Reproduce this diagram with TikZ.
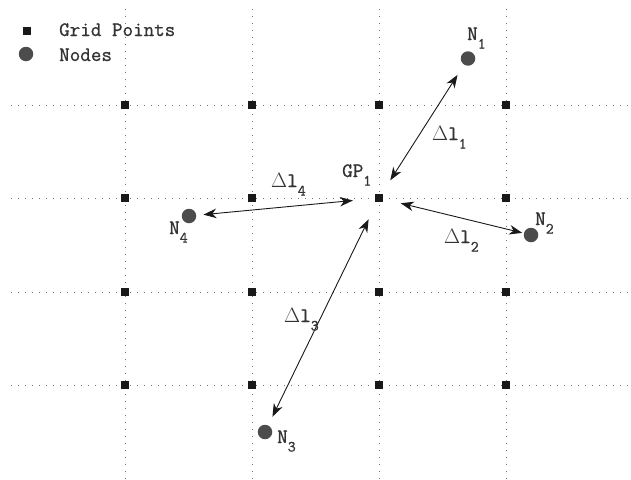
\documentclass[tikz,border=0pt]{standalone}
\usepackage{fontspec}
\newfontfamily\typew{Latin Modern Mono}[FakeBold=0.9]
\usepackage{tikz}
\usetikzlibrary{arrows.meta,positioning}
\newcommand{\lbl}[2]{#1\raisebox{-8.5pt}{\fontsize{15.5}{16}\selectfont #2}}

\begin{document}
\begin{tikzpicture}[x=1pt,y=-1pt,>={Stealth[length=13pt,width=9.5pt,inset=4pt]},
  font=\typew\fontsize{20.5}{21}\selectfont,
  gridline/.style={black!55,line width=1pt,dash pattern=on 1pt off 6pt},
  gridpt/.style={fill=black!90,minimum size=8pt,inner sep=0pt},
  netnode/.style={circle,fill=black!70,minimum size=14.5pt,inner sep=0pt},
  lbltext/.style={anchor=base west,inner sep=0pt,text=black!80},
  dist/.style={<->,line width=0.9pt,black!90}]
\useasboundingbox (0,0) rectangle (631,479);
% grid
\foreach \x in {125,252,379,506} \draw[gridline] (\x,9) -- (\x,479);
\foreach \y in {105,198,292,385} \draw[gridline] (11,\y) -- (631,\y);
\foreach \x [count=\i] in {125,252,379,506}
  \foreach \y [count=\j] in {105,198,292,385}
    \node[gridpt] (g\i\j) at (\x,\y) {};
% legend
\node[gridpt] (keygp) at (27,31) {};
\node[lbltext] (keygptext) at (59,36) {Grid Points};
\node[netnode] (keynd) at (26,54) {};
\node[lbltext] (keyndtext) at (59,61) {Nodes};
% nodes
\node[netnode] (N1) at (468,58.5) {};
\node[netnode] (N2) at (531,235) {};
\node[netnode] (N3) at (265,432) {};
\node[netnode] (N4) at (189,216) {};
\node[lbltext] (N1lbl) at (467,40) {\lbl{N}{1}};
\node[lbltext] (N2lbl) at (535,225) {\lbl{N}{2}};
\node[lbltext] (N3lbl) at (277,443) {\lbl{N}{3}};
\node[lbltext] (N4lbl) at (169,234) {\lbl{N}{4}};
\node[lbltext] (GPlbl) at (342,177) {\lbl{GP}{1}};
% distances from GP_1
\draw[dist,shorten <=16pt,shorten >=12pt] (g32) -- (N1);
\draw[dist,shorten <=18pt,shorten >=1.5pt] (g32) -- (N2);
\draw[dist,shorten <=19pt,shorten >=9.5pt] (g32) -- (N3);
\draw[dist,shorten <=22pt,shorten >=7pt] (g32) -- (N4);
\node[lbltext] (d1) at (432,140) {\lbl{$\Delta$l}{1}};
\node[lbltext] (d2) at (444,243) {\lbl{$\Delta$l}{2}};
\node[lbltext] (d3) at (284,322) {\lbl{$\Delta$l}{3}};
\node[lbltext] (d4) at (271,187) {\lbl{$\Delta$l}{4}};
\end{tikzpicture}
\end{document}
